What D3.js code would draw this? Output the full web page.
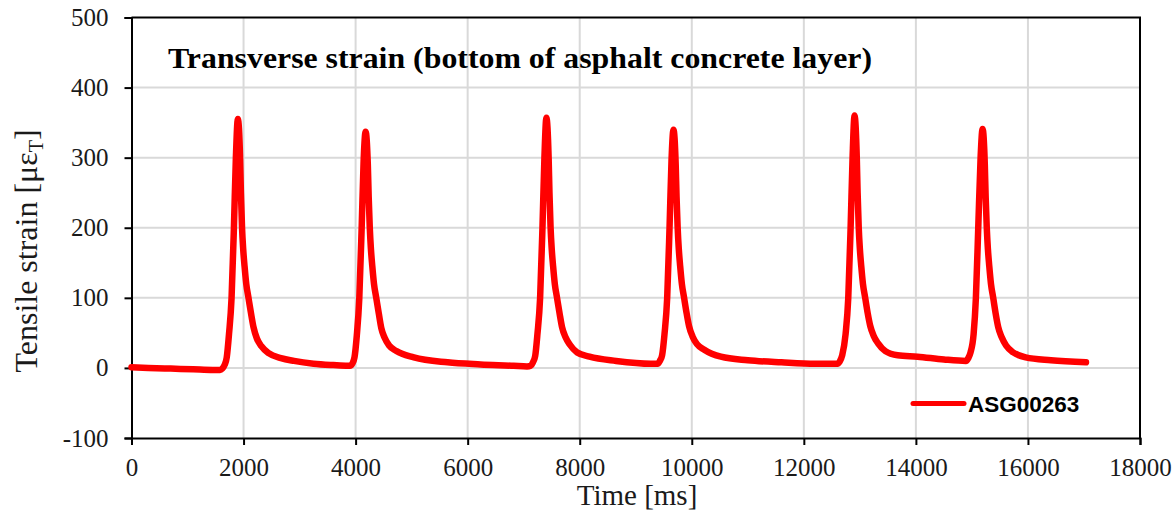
<!DOCTYPE html>
<html>
<head>
<meta charset="utf-8">
<script src="https://cdn.jsdelivr.net/npm/d3@7"></script>
<style>
  body { margin: 0; background: #fff; }
  svg { display: block; }
  .tick text { font-family: "Liberation Serif", "Times New Roman", serif; font-size: 25px; fill: #1a1a1a; }
</style>
</head>
<body>
<svg id="chart" width="1176" height="522"></svg>
<script>
// time [ms] and strain [ue], one pair per point
let time_ms = [
  0, 300, 700, 1100, 1450, 1580, 1620, 1660, 1700, 1740, 1786, 1828, 1863, 1898, 1938, 1953, 1973, 1993, 2018, 2048, 2088, 2133, 2178, 2238, 2318, 2448, 2668, 2900, 3250, 3600, 3860,
  3900, 3940, 3980, 4020, 4066, 4108, 4143, 4178, 4218, 4233, 4253, 4273, 4298, 4328, 4368, 4413, 4458, 4518, 4598, 4728, 5040, 5640, 6230, 6820,
  7060, 7125, 7165, 7205, 7245, 7293, 7335, 7370, 7405, 7445, 7460, 7480, 7500, 7525, 7555, 7595, 7640, 7685, 7745, 7825, 7955, 8175, 8650, 9270,
  9390, 9430, 9470, 9513, 9561, 9603, 9638, 9673, 9713, 9728, 9748, 9768, 9793, 9823, 9863, 9908, 9953, 10013, 10093, 10223, 10520, 11000, 11600, 12200,
  12600, 12640, 12685, 12745, 12793, 12835, 12870, 12905, 12945, 12960, 12980, 13000, 13025, 13055, 13095, 13140, 13185, 13245, 13325, 13455, 13675, 14030, 14500,
  14893, 14935, 14975, 15030, 15071, 15113, 15155, 15190, 15230, 15245, 15265, 15285, 15310, 15340, 15380, 15425, 15470, 15530, 15610, 15740, 15960, 16410, 17036
]
let strain_ue = [
  1, 0, -1, -2, -3, -3, -1, 4, 15, 48, 100, 200, 300, 355, 300, 250, 200, 170, 145, 120, 100, 78, 58, 42, 31, 21, 14, 10, 6, 4, 3,
  3, 6, 15, 45, 100, 200, 295, 337, 290, 245, 200, 170, 145, 120, 100, 78, 57, 43, 32, 24, 15, 8, 5, 3,
  2, 3, 8, 17, 48, 100, 200, 300, 357, 300, 250, 200, 170, 145, 120, 100, 78, 58, 44, 33, 22, 16, 10, 6,
  6, 10, 18, 48, 100, 200, 295, 340, 290, 245, 200, 170, 145, 120, 100, 78, 59, 45, 34, 26, 16, 11, 8, 6,
  6, 9, 18, 48, 100, 200, 300, 360, 300, 250, 200, 170, 145, 120, 100, 78, 60, 46, 35, 24, 18, 16, 12,
  10, 14, 22, 48, 100, 200, 300, 341, 290, 245, 200, 170, 145, 120, 100, 77, 58, 44, 32, 22, 15, 11, 8
]

let x_ticks = [0, 2000, 4000, 6000, 8000, 10000, 12000, 14000, 16000, 18000]
let y_ticks = [-100, 0, 100, 200, 300, 400, 500]
let series_name = "ASG00263"
let chart_title = "Transverse strain (bottom of asphalt concrete layer)"

let margin = {top: 17.5, right: 36, bottom: 84, left: 131.5}
let width = 1176, height = 522

function make_scales() {
  return {
    x: d3.scaleLinear()
      .domain([0, 18000])
      .range([margin.left, width - margin.right]),
    y: d3.scaleLinear()
      .domain([-100, 500])
      .range([height - margin.bottom, margin.top])
  }
}

function draw_grid(svg, scales) {
  let grid = svg.append("g").attr("stroke", "#d9d9d9").attr("stroke-width", 2)
  grid.selectAll(".vx")
    .data(x_ticks.slice(1, -1)).enter()
    .append("line")
    .attr("x1", d => scales.x(d)).attr("x2", d => scales.x(d))
    .attr("y1", scales.y(500)).attr("y2", scales.y(-100))
  grid.selectAll(".hy")
    .data(y_ticks.slice(1, -1)).enter()
    .append("line")
    .attr("y1", d => scales.y(d)).attr("y2", d => scales.y(d))
    .attr("x1", scales.x(0)).attr("x2", scales.x(18000))
}

function draw_axes(svg, scales) {
  let x_axis = d3.axisBottom(scales.x).tickValues(x_ticks).tickSize(7).tickPadding(13).tickFormat(d => String(d))
  svg.append("g")
    .attr("transform", `translate(0, ${scales.y(-100)})`)
    .call(x_axis)
    .call(g => g.selectAll("line, path").attr("stroke", "#000").attr("stroke-width", 2))

  let y_axis = d3.axisLeft(scales.y).tickValues(y_ticks).tickSize(7).tickPadding(16).tickFormat(d => String(d))
  svg.append("g")
    .attr("transform", `translate(${scales.x(0)}, 0)`)
    .call(y_axis)
    .call(g => g.selectAll("line, path").attr("stroke", "#000").attr("stroke-width", 2))

  // top and right edges of the box
  svg.append("path")
    .attr("d", `M${scales.x(0)},${scales.y(500)}H${scales.x(18000)}V${scales.y(-100)}`)
    .attr("fill", "none").attr("stroke", "#000").attr("stroke-width", 2)
}

function draw_line(svg, scales) {
  let points = time_ms.map((t, i) => ({t: t, v: strain_ue[i]}))
  let path_generator = d3.line()
    .x(d => scales.x(d.t))
    .y(d => scales.y(d.v))
    .curve(d3.curveMonotoneX)
  svg.append("path")
    .datum(points)
    .attr("d", path_generator)
    .attr("fill", "none")
    .attr("stroke", "#ff0000")
    .attr("stroke-width", 6.5)
    .attr("stroke-linejoin", "round")
    .attr("stroke-linecap", "round")
}

function draw_labels(svg) {
  svg.append("text")
    .attr("x", 168).attr("y", 68)
    .attr("textLength", 704).attr("lengthAdjust", "spacingAndGlyphs")
    .style("font-family", "'Liberation Serif', 'Times New Roman', serif")
    .style("font-weight", "bold").style("font-size", "30px")
    .text(chart_title)

  svg.append("text")
    .attr("x", 637).attr("y", 505)
    .attr("text-anchor", "middle")
    .style("font-family", "'Liberation Serif', 'Times New Roman', serif")
    .style("font-size", "29px").style("fill", "#1a1a1a")
    .text("Time [ms]")

  let yt = svg.append("text")
    .attr("transform", "translate(37, 251) rotate(-90)")
    .attr("text-anchor", "middle")
    .style("font-family", "'Liberation Serif', 'Times New Roman', serif")
    .style("font-size", "32px").style("fill", "#1a1a1a")
  yt.append("tspan").text("Tensile strain [με")
  yt.append("tspan").attr("dy", 6).style("font-size", "20px").text("T")
  yt.append("tspan").attr("dy", -6).text("]")

  // legend
  svg.append("line")
    .attr("x1", 913).attr("x2", 964).attr("y1", 403.5).attr("y2", 403.5)
    .attr("stroke", "#ff0000").attr("stroke-width", 5).attr("stroke-linecap", "round")
  svg.append("text")
    .attr("x", 968).attr("y", 412)
    .style("font-family", "'Liberation Sans', Arial, sans-serif")
    .style("font-weight", "bold").style("font-size", "22.5px")
    .text(series_name)
}

function visualize() {
  let svg = d3.select("#chart")
  let scales = make_scales()
  draw_grid(svg, scales)
  draw_axes(svg, scales)
  draw_line(svg, scales)
  draw_labels(svg)
}

visualize()
</script>
</body>
</html>
